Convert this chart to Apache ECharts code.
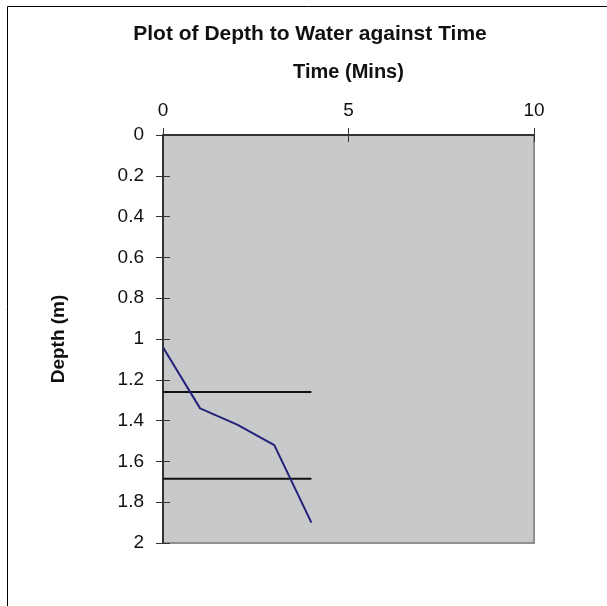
<!DOCTYPE html>
<html>
<head>
<meta charset="utf-8">
<style>
  html, body { margin: 0; padding: 0; background: #fff; }
  #chart-container { width: 607px; height: 606px; }
</style>
<script src="https://cdn.jsdelivr.net/npm/echarts@6/dist/echarts.min.js"></script>
</head>
<body>
<div id="chart-container"></div>
<script>
// time in minutes and depth to water in metres
var timeMins = [0, 1, 2, 3, 4];
var depthM = [1.04, 1.34, 1.42, 1.52, 1.90];
// two horizontal reference lines
var refLineA = [[0, 1.26], [4, 1.26]];
var refLineB = [[0, 1.685], [4, 1.685]];

var dom = document.getElementById('chart-container');
var myChart = echarts.init(dom, null, { renderer: 'canvas' });

var font = '"Liberation Sans", Arial, sans-serif';
var axisColor = '#333';

var option = {
  animation: false,
  backgroundColor: '#fff',
  textStyle: { fontFamily: font },
  graphic: [
    {
      type: 'rect',
      shape: { x: 7.5, y: 6.5, width: 700, height: 700 },
      style: { fill: 'none', stroke: '#000', lineWidth: 1 },
      silent: true
    }
  ],
  title: {
    text: 'Plot of Depth to Water against Time',
    left: 305,
    top: 19,
    textAlign: 'center',
    textStyle: { fontFamily: font, fontSize: 21, fontWeight: 'bold', color: '#111' }
  },
  grid: {
    left: 163, top: 135, width: 371, height: 408,
    show: true,
    backgroundColor: '#c8c9cb',
    borderColor: '#8e8f91',
    borderWidth: 2
  },
  xAxis: [
    {
      type: 'value',
      position: 'top',
      min: 0, max: 10, interval: 5,
      name: 'Time (Mins)',
      nameLocation: 'middle',
      nameGap: 53,
      nameTextStyle: { fontFamily: font, fontSize: 20, fontWeight: 'bold', color: '#111' },
      axisLine: { show: true, lineStyle: { color: axisColor, width: 2 } },
      axisTick: { show: true, length: 7, lineStyle: { color: axisColor } },
      axisLabel: { fontFamily: font, fontSize: 19, color: '#111', margin: 15 },
      splitLine: { show: false }
    },
    {
      type: 'value',
      position: 'top',
      min: 0, max: 10, interval: 5,
      axisLine: { show: false },
      axisTick: { show: true, inside: true, length: 7, lineStyle: { color: axisColor } },
      axisLabel: { show: false },
      splitLine: { show: false }
    }
  ],
  yAxis: [
    {
      type: 'value',
      inverse: true,
      min: 0, max: 2, interval: 0.2,
      name: 'Depth (m)',
      nameLocation: 'middle',
      nameGap: 95,
      nameTextStyle: { fontFamily: font, fontSize: 19, fontWeight: 'bold', color: '#111' },
      axisLine: { show: true, lineStyle: { color: axisColor, width: 2 } },
      axisTick: { show: true, length: 7, lineStyle: { color: axisColor } },
      axisLabel: { fontFamily: font, fontSize: 19, color: '#111', margin: 19 },
      splitLine: { show: false }
    },
    {
      type: 'value',
      inverse: true,
      position: 'left',
      min: 0, max: 2, interval: 0.2,
      axisLine: { show: false },
      axisTick: { show: true, inside: true, length: 7, lineStyle: { color: axisColor } },
      axisLabel: { show: false },
      splitLine: { show: false }
    }
  ],
  series: [
    {
      name: 'Depth',
      type: 'line',
      data: timeMins.map(function (t, i) { return [t, depthM[i]]; }),
      showSymbol: false,
      lineStyle: { color: '#23237a', width: 2 },
      z: 3
    },
    {
      name: 'Ref A',
      type: 'line',
      data: refLineA,
      showSymbol: false,
      lineStyle: { color: '#111', width: 2 },
      z: 2
    },
    {
      name: 'Ref B',
      type: 'line',
      data: refLineB,
      showSymbol: false,
      lineStyle: { color: '#111', width: 2 },
      z: 2
    }
  ]
};

myChart.setOption(option);
window.addEventListener('resize', myChart.resize);
</script>
</body>
</html>
